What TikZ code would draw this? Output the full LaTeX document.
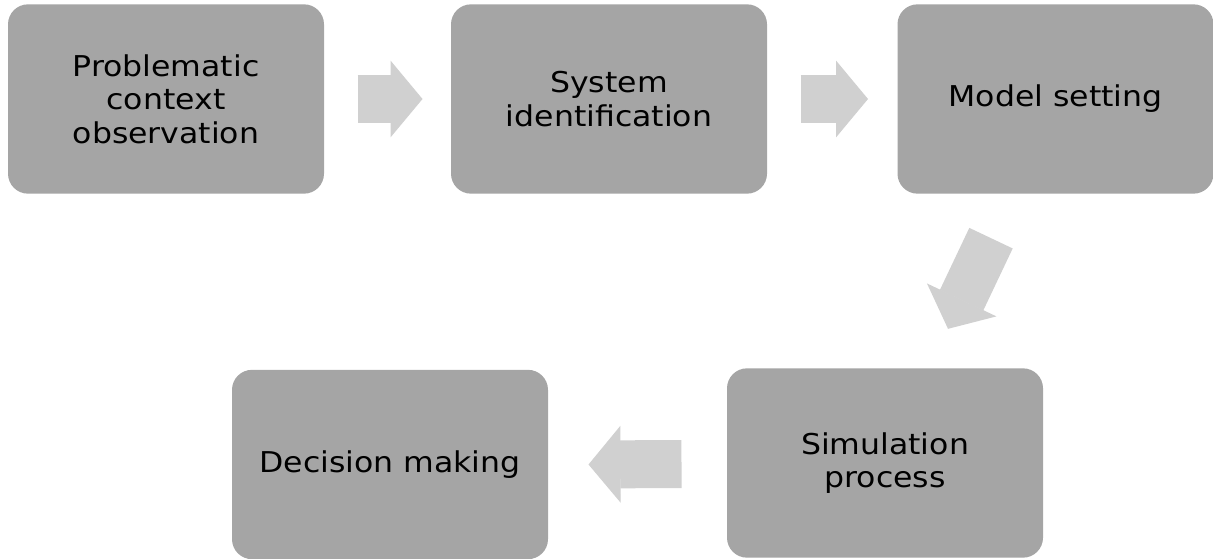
\documentclass[tikz,border=0pt]{standalone}
\usepackage{fontspec}
\setmainfont{DejaVu Sans}[FakeStretch=1.1]
\usetikzlibrary{arrows.meta}

\definecolor{boxgray}{RGB}{165,165,165}
\definecolor{arrowgray}{RGB}{208,208,208}

\tikzset{every picture/.style={line width=0.75pt}}
\tikzset{
	stagebox/.style={fill=boxgray, draw=none, rounded corners=15pt, minimum width=237pt, minimum height=142pt, inner sep=0pt, align=center, font=\fontsize{21.5}{25}\selectfont},
	blockarrow/.style={draw=arrowgray, line width=36pt, -{Triangle[length=24pt,width=57.5pt,line width=1pt]}}
}

\begin{document}
\begin{tikzpicture}[x=0.75pt,y=0.75pt,yscale=-1,xscale=1]
	\useasboundingbox (0,0) rectangle (1213,559); %set diagram to 1213 x 559

	%Shape: Rounded Rect [id:obs] 
	\node [stagebox] (obs) at (166,99) {Problematic\\context\\observation};
	%Shape: Rounded Rect [id:ident] 
	\node [stagebox] (ident) at (609,99) {System\\identification};
	%Shape: Rounded Rect [id:model] 
	\node [stagebox] (model) at (1055.5,99) {Model setting};
	%Shape: Rounded Rect [id:simul] 
	\node [stagebox] (simul) at (885,463) {Simulation\\process};
	%Shape: Rounded Rect [id:decis] 
	\node [stagebox] (decis) at (390,464.5) {Decision making};

	%Block Arrows
	\draw [blockarrow] ([shift={(33,0)}]obs.east) -- ([shift={(-28,0)}]ident.west) ;
	\draw [blockarrow] ([shift={(33,0)}]ident.east) -- ([shift={(-29,0)}]model.west) ;
	\draw [blockarrow] ([shift={(-64.5,44)}]model.south) -- ([shift={(63,-39)}]simul.north) ;
	\draw [blockarrow] ([shift={(-45,1)}]simul.west) -- ([shift={(40,0)}]decis.east) ;

\end{tikzpicture}
\end{document}
